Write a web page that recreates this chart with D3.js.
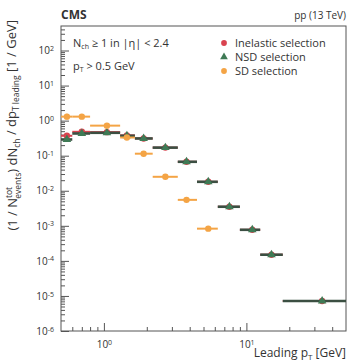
<!DOCTYPE html>
<html>
<head>
<meta charset="utf-8">
<script src="https://cdn.jsdelivr.net/npm/d3@7"></script>
<style>
  body { margin: 0; background: #fff; }
  text { font-family: "Open Sans", "DejaVu Sans", sans-serif; fill: #333; }
</style>
</head>
<body>
<svg id="chart" width="348" height="363"></svg>
<script>
// leading pT bins [GeV]
var ptLow    = [0.5, 0.6, 0.8, 1.3, 1.65, 2.2, 3.3, 4.5, 6.3, 9, 12.5, 18];
var ptHigh   = [0.6, 0.8, 1.3, 1.65, 2.2, 3.3, 4.5, 6.3, 9, 12.5, 18, 50];
var ptCenter = [0.55, 0.7, 1.05, 1.45, 1.9, 2.7, 3.8, 5.4, 7.6, 11, 15, 34];

// (1/N) dN/dpT leading [1/GeV]
var inelastic = [0.37, 0.48, 0.47, 0.38, 0.31, 0.17, 0.067, 0.018, 0.0035, 7.7e-4, 1.5e-4, 7.2e-6];
var nsd       = [0.29, 0.43, 0.45, 0.37, 0.31, 0.17, 0.067, 0.018, 0.0035, 7.7e-4, 1.5e-4, 7.2e-6];
var sd        = [1.3, 1.3, 0.72, 0.33, 0.114, 0.025, 0.0055, 8.3e-4];
var sdErr     = [0.2, 0.18, 0.15, 0.12, 0.1, 0.1, 0.1, 0.12];

var yTicks = [1e-6, 1e-5, 1e-4, 1e-3, 1e-2, 1e-1, 1, 10, 100];
var xTicks = [1, 10];

var svg = d3.select("#chart"),
    pLeft = 61, pRight = 346, pTop = 26, pBottom = 331;

var x = d3.scaleLog().domain([0.5, 50]).range([pLeft, pRight]),
    y = d3.scaleLog().domain([1e-6, 500]).range([pBottom, pTop]);

function expLabel(sel) {
  sel.each(function(d) {
    var t = d3.select(this).text(null);
    t.append("tspan").text("10");
    t.append("tspan").attr("dy", "-0.45em").attr("font-size", "7px").text(Math.round(Math.log10(d)));
  });
}

// minor ticks
var yMinor = [], xMinor = [];
for (var e = -6; e < 3; e++) for (var m = 2; m < 10; m++) if (m * Math.pow(10, e) < 500) yMinor.push(m * Math.pow(10, e));
for (var e2 = -1; e2 < 2; e2++) for (var m2 = 2; m2 < 10; m2++) {
  var v = m2 * Math.pow(10, e2);
  if (v > 0.5 && v < 50) xMinor.push(v);
}

svg.append("g").attr("transform", "translate(" + pLeft + ",0)")
  .call(d3.axisLeft(y).tickValues(yMinor).tickSize(-4).tickFormat(""))
  .call(function(g) { g.select(".domain").remove(); g.selectAll("line").attr("stroke", "#555"); });
svg.append("g").attr("transform", "translate(0," + pBottom + ")")
  .call(d3.axisBottom(x).tickValues(xMinor).tickSize(-4).tickFormat(""))
  .call(function(g) { g.select(".domain").remove(); g.selectAll("line").attr("stroke", "#555"); });

svg.append("g").attr("transform", "translate(" + pLeft + ",0)")
  .call(d3.axisLeft(y).tickValues(yTicks).tickSize(-8).tickPadding(7))
  .call(function(g) {
    g.select(".domain").remove();
    g.selectAll("line").attr("stroke", "#555");
    g.selectAll("text").attr("font-size", "10px").attr("fill", "#555").call(expLabel);
  });
svg.append("g").attr("transform", "translate(0," + pBottom + ")")
  .call(d3.axisBottom(x).tickValues(xTicks).tickSize(-8).tickPadding(6))
  .call(function(g) {
    g.select(".domain").remove();
    g.selectAll("line").attr("stroke", "#555");
    g.selectAll("text").attr("font-size", "10px").attr("fill", "#555").attr("dy", "1.1em").call(expLabel);
  });

svg.append("rect").attr("x", pLeft).attr("y", pTop)
  .attr("width", pRight - pLeft).attr("height", pBottom - pTop)
  .attr("fill", "none").attr("stroke", "#555").attr("stroke-width", 1);

// series
var series = [
  { name: "Inelastic selection", vals: inelastic, err: null, color: "#d9434f", bar: "#d9434f", shape: d3.symbolCircle, bw: 2 },
  { name: "NSD selection", vals: nsd, err: null, color: "#3f7a55", bar: "#3b4f42", shape: d3.symbolTriangle, bw: 2.6 },
  { name: "SD selection", vals: sd, err: sdErr, color: "#f4a445", bar: "#f4a445", shape: d3.symbolCircle, bw: 2 }
];

var plot = svg.append("g");
series.forEach(function(s) {
  var idx = d3.range(s.vals.length);
  var g = plot.append("g");
  g.selectAll(".hbar").data(idx).enter().append("line")
    .attr("x1", function(i) { return x(ptLow[i]); })
    .attr("x2", function(i) { return x(ptHigh[i]); })
    .attr("y1", function(i) { return y(s.vals[i]); })
    .attr("y2", function(i) { return y(s.vals[i]); })
    .attr("stroke", s.bar).attr("stroke-width", s.bw);
  if (s.err) {
    g.selectAll(".vbar").data(idx).enter().append("line")
      .attr("x1", function(i) { return x(ptCenter[i]); })
      .attr("x2", function(i) { return x(ptCenter[i]); })
      .attr("y1", function(i) { return y(s.vals[i] * (1 + s.err[i])); })
      .attr("y2", function(i) { return y(s.vals[i] / (1 + s.err[i])); })
      .attr("stroke", s.bar).attr("stroke-width", 2);
  }
  g.selectAll("path").data(idx).enter().append("path")
    .attr("d", d3.symbol().type(s.shape).size(32))
    .attr("transform", function(i) { return "translate(" + x(ptCenter[i]) + "," + y(s.vals[i]) + ")"; })
    .attr("fill", s.color);
});

// legend
var legend = svg.append("g");
series.forEach(function(s, i) {
  var ly = 43 + i * 14;
  legend.append("path").attr("d", d3.symbol().type(s.shape).size(26)())
    .attr("transform", "translate(224," + ly + ")").attr("fill", s.color);
  legend.append("text").attr("x", 235).attr("y", ly + 4)
    .attr("font-size", "11px").text(s.name);
});

// annotations
svg.append("text").attr("x", pLeft).attr("y", 19).attr("font-size", "12px")
  .attr("font-weight", "bold").attr("fill", "#222").text("CMS");
svg.append("text").attr("x", pRight).attr("y", 19).attr("font-size", "10px")
  .attr("text-anchor", "end").attr("fill", "#555").text("pp (13 TeV)");

var a1 = svg.append("text").attr("x", 73).attr("y", 47).attr("font-size", "11px");
a1.append("tspan").text("N");
a1.append("tspan").attr("font-size", "7px").attr("dy", "0.35em").text("ch");
a1.append("tspan").attr("dy", "-0.25em").text(" \u2265 1 in |\u03b7| < 2.4");

var a2 = svg.append("text").attr("x", 73).attr("y", 70).attr("font-size", "11px");
a2.append("tspan").text("p");
a2.append("tspan").attr("font-size", "7px").attr("dy", "0.35em").text("T");
a2.append("tspan").attr("dy", "-0.25em").text(" > 0.5 GeV");

var xl = svg.append("text").attr("x", pRight).attr("y", 357).attr("font-size", "12px")
  .attr("text-anchor", "end");
xl.append("tspan").text("Leading p");
xl.append("tspan").attr("font-size", "8px").attr("dy", "0.35em").text("T");
xl.append("tspan").attr("dy", "-0.25em").text(" [GeV]");

var yl = svg.append("text").attr("transform", "translate(17,20) rotate(-90)")
  .attr("text-anchor", "end").attr("font-size", "13px");
yl.append("tspan").text("(1 / N");
yl.append("tspan").attr("font-size", "8.5px").attr("dy", "-0.6em").text("tot");
yl.append("tspan").attr("font-size", "8.5px").attr("dx", "-12px").attr("dy", "1.1em").text("events");
yl.append("tspan").attr("dy", "-0.35em").text(") dN");
yl.append("tspan").attr("font-size", "8.5px").attr("dy", "0.35em").text("ch");
yl.append("tspan").attr("dy", "-0.25em").text(" / dp");
yl.append("tspan").attr("font-size", "8.5px").attr("dy", "0.35em").text("T leading");
yl.append("tspan").attr("dy", "-0.25em").text(" [1 / GeV]");
</script>
</body>
</html>
